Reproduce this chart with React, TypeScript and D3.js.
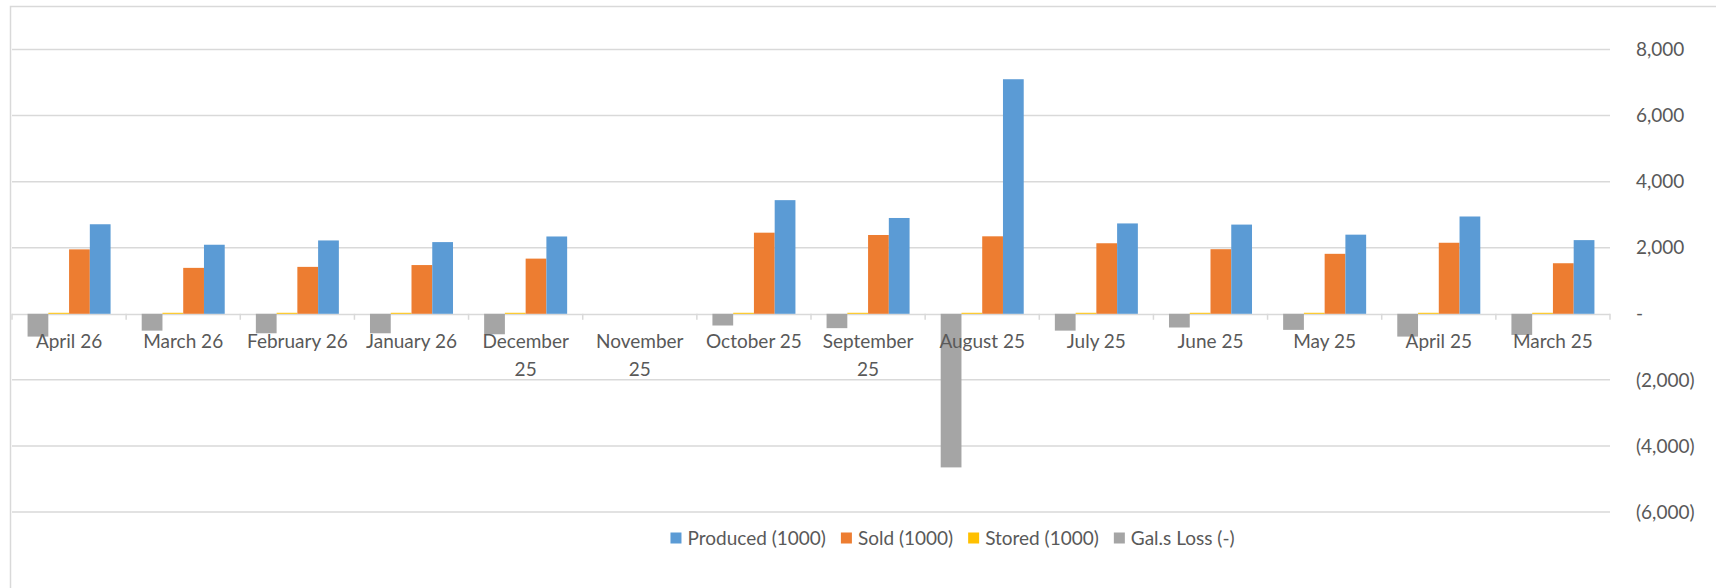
import React, { useEffect, useRef } from 'react';
import * as d3 from 'd3';

// Months as shown on the axis (most recent first)
const months = [
  'April 26', 'March 26', 'February 26', 'January 26', 'December 25', 'November 25',
  'October 25', 'September 25', 'August 25', 'July 25', 'June 25', 'May 25', 'April 25', 'March 25',
];
const produced = [2710, 2090, 2220, 2170, 2340, 0, 3440, 2900, 7100, 2735, 2700, 2395, 2945, 2230];
const sold = [1950, 1390, 1420, 1475, 1670, 0, 2455, 2385, 2345, 2135, 1955, 1815, 2150, 1530];
const stored = [30, 30, 30, 30, 30, 0, 30, 30, 30, 30, 30, 30, 30, 30];
const galsLoss = [-690, -510, -590, -590, -620, 0, -355, -435, -4650, -510, -415, -487, -690, -640];

const seriesNames = ['Produced (1000)', 'Sold (1000)', 'Stored (1000)', 'Gal.s Loss (-)'];
const seriesColors = ['#5b9bd5', '#ed7d31', '#ffc000', '#a5a5a5'];
const yTicks = [-6000, -4000, -2000, 0, 2000, 4000, 6000, 8000];

const W = 1716;
const H = 588;
const FONT = 'Lato, "Open Sans", sans-serif';
const FS = 19;
const TEXT = '#595959';
const GRID = '#d9d9d9';

const fmt = (v: number) => {
  if (v === 0) return '-';
  const s = d3.format(',')(Math.abs(v));
  return v < 0 ? `(${s})` : s;
};

function measure(text: string): number {
  const c = document.createElement('canvas').getContext('2d');
  if (!c) return text.length * FS * 0.5;
  c.font = `${FS}px Lato`;
  return c.measureText(text).width;
}

export default function App() {
  const ref = useRef<SVGSVGElement | null>(null);

  useEffect(() => {
    const svg = d3.select(ref.current);
    svg.selectAll('*').remove();

    const plot = { left: 12, right: 1610, top: 49.5, bottom: 512 };

    const x = d3.scaleBand<string>().domain(months).range([plot.left, plot.right]).paddingInner(0).paddingOuter(0);
    const bw = x.bandwidth();
    const barW = bw / 5.5; // 150% gap width
    // series drawn in reverse order inside each group
    const order = [3, 2, 1, 0];
    const xs = d3
      .scaleBand<number>()
      .domain(order)
      .range([barW * 0.75, bw - barW * 0.75])
      .padding(0);

    const y = d3.scaleLinear().domain([-6000, 8000]).range([plot.bottom, plot.top]);

    // outer frame
    svg.append('path')
      .attr('d', `M10.5,${H} V6.5 H${W}`)
      .attr('fill', 'none')
      .attr('stroke', GRID)
      .attr('stroke-width', 1.5);

    // gridlines
    svg.append('g')
      .selectAll('line')
      .data(yTicks.filter((t) => t !== 0))
      .join('line')
      .attr('x1', plot.left)
      .attr('x2', plot.right)
      .attr('y1', (d) => y(d))
      .attr('y2', (d) => y(d))
      .attr('stroke', GRID)
      .attr('stroke-width', 1.5);

    // value axis labels on the right
    svg.append('g')
      .selectAll('text')
      .data(yTicks)
      .join('text')
      .attr('x', 1636)
      .attr('y', (d) => y(d))
      .attr('dy', '0.35em')
      .attr('font-family', FONT)
      .attr('font-size', FS)
      .attr('fill', TEXT)
      .text((d) => fmt(d));

    // category axis line and tick marks
    svg.append('line')
      .attr('x1', plot.left)
      .attr('x2', plot.right)
      .attr('y1', y(0) + 0.75)
      .attr('y2', y(0) + 0.75)
      .attr('stroke', GRID)
      .attr('stroke-width', 1.5);

    const bounds = months.map((m) => x(m) as number).concat([plot.right]);
    svg.append('g')
      .selectAll('line')
      .data(bounds)
      .join('line')
      .attr('x1', (d) => d)
      .attr('x2', (d) => d)
      .attr('y1', y(0))
      .attr('y2', y(0) + 6)
      .attr('stroke', GRID)
      .attr('stroke-width', 1.5);

    const all = [produced, sold, stored, galsLoss];

    // bars
    const groups = svg.append('g')
      .selectAll('g')
      .data(months)
      .join('g')
      .attr('transform', (m) => `translate(${x(m)},0)`);

    groups.selectAll('rect')
      .data((m, i) => order.map((s) => ({ s, v: all[s][i] })))
      .join('rect')
      .attr('x', (d) => xs(d.s) as number)
      .attr('width', xs.bandwidth())
      .attr('y', (d) => Math.min(y(d.v), y(0)))
      .attr('height', (d) => Math.abs(y(d.v) - y(0)))
      .attr('fill', (d) => seriesColors[d.s]);

    // category labels, wrapped when wider than a band
    const lab = svg.append('g')
      .selectAll('text')
      .data(months)
      .join('text')
      .attr('x', (m) => (x(m) as number) + bw / 2)
      .attr('y', 348)
      .attr('text-anchor', 'middle')
      .attr('font-family', FONT)
      .attr('font-size', FS)
      .attr('fill', TEXT);

    lab.each(function (m) {
      const t = d3.select(this);
      const cx = (x(m) as number) + bw / 2;
      const lines = measure(m) > bw - 6 ? [m.slice(0, m.lastIndexOf(' ')), m.slice(m.lastIndexOf(' ') + 1)] : [m];
      lines.forEach((ln, k) => {
        t.append('tspan').attr('x', cx).attr('dy', k === 0 ? 0 : 28).text(ln);
      });
    });

    // legend
    const sq = 11;
    const gapText = 6;
    const gapItem = 15;
    const widths = seriesNames.map((n) => measure(n));
    const total = widths.reduce((a, w) => a + sq + gapText + w, 0) + gapItem * (seriesNames.length - 1);
    let lx = 952.5 - total / 2;
    const leg = svg.append('g');
    seriesNames.forEach((n, i) => {
      leg.append('rect')
        .attr('x', lx)
        .attr('y', 532.5)
        .attr('width', sq)
        .attr('height', sq)
        .attr('fill', seriesColors[i]);
      leg.append('text')
        .attr('x', lx + sq + gapText)
        .attr('y', 545)
        .attr('font-family', FONT)
        .attr('font-size', FS)
        .attr('fill', TEXT)
        .text(n);
      lx += sq + gapText + widths[i] + gapItem;
    });
  }, []);

  return (
    <svg
      ref={ref}
      width={W}
      height={H}
      style={{ position: 'absolute', left: 0, top: 0, display: 'block', background: '#fff' }}
    />
  );
}
